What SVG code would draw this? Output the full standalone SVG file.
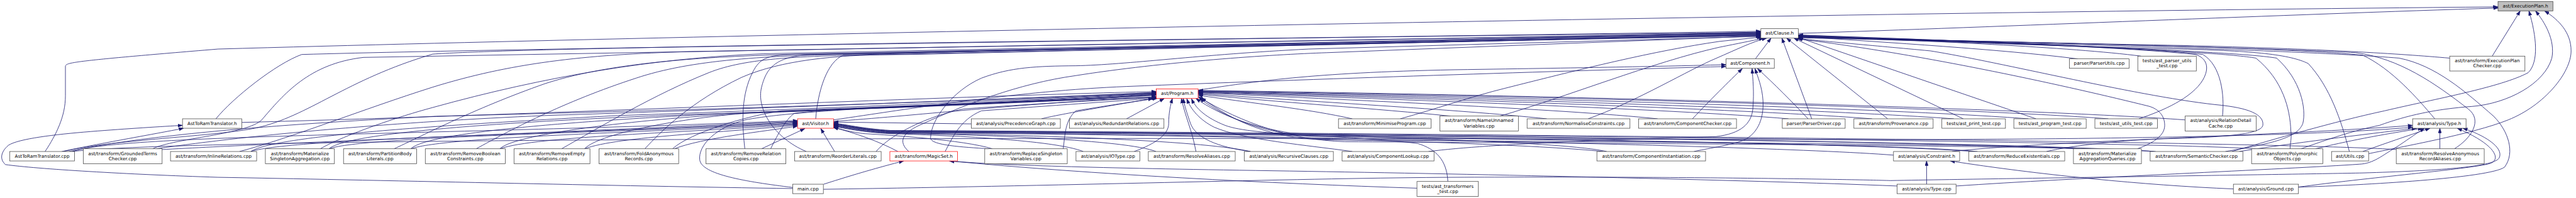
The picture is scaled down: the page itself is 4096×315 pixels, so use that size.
<svg xmlns="http://www.w3.org/2000/svg" width="4096" height="315" viewBox="0 0 4096 315">
<style>
.n rect{fill:#fff;stroke:#404040;stroke-width:1.3}
.n.r rect{stroke:#ff0000}
.n.g rect{fill:#bfbfbf}
.n text{font-family:"DejaVu Sans","Liberation Sans",sans-serif;font-size:12.7px;text-anchor:middle;fill:#000}
#edges path{fill:none;stroke:#191970;stroke-width:1.4;marker-end:url(#arr)}
</style>
<defs>
<marker id="arr" markerUnits="userSpaceOnUse" markerWidth="14" markerHeight="10" refX="13" refY="5" orient="auto">
<path d="M0,0.5 L13,5 L0,9.5 z" fill="#191970" stroke="#191970" stroke-width="1"/>
</marker>
</defs>
<rect x="0" y="0" width="4096" height="315" fill="#fff"/>
<g transform="scale(0.578)">
<g id="edges">
<path d="M4947,92 C5500,74 6300,40 6872,22"/>
<path d="M124,417 C155,370 180,320 180,264 L180,182 C182,172 200,168 600,135 C2000,95 5000,35 6872,19"/>
<path d="M6856,154.5 L6933,30"/>
<path d="M6140,417 C6250,385 6420,335 6560,305 C6700,272 6880,240 6955,200 C6985,170 6978,100 6957,30"/>
<path d="M6330,409.5 C6400,385 6470,360 6546,345 C6620,318 6700,300 6800,293 C6900,285 7000,230 7020,160 C7030,110 7000,60 6975,30"/>
<path d="M6516,423 C6600,405 6800,370 6900,330 C7000,290 7073,200 7073,140 C7073,90 7040,55 7000,30"/>
<path d="M4829,162 L4872,105"/>
<path d="M594,327 C640,270 760,175 830,150 C1500,130 4000,100 4844,86"/>
<path d="M2244,327 C2250,250 2275,170 2320,152 C3000,130 4300,104 4844,88"/>
<path d="M175,417 C300,385 600,375 705,352 C850,320 950,220 1190,149 C1500,125 4000,100 4844,89"/>
<path d="M420,409.5 C480,380 680,370 720,330 C780,260 850,175 1000,158 L4844,90"/>
<path d="M659,417 C800,380 1000,300 1190,240 C1400,175 1600,150 1900,142 L4844,91"/>
<path d="M881,409.5 C950,370 1100,320 1190,296 C1500,210 1800,160 2100,148 L4844,92"/>
<path d="M1084,409.5 C1150,380 1300,300 1500,230 C1700,165 2000,152 2300,147 L4844,93"/>
<path d="M1310,409.5 C1400,360 1550,280 1750,215 C1900,165 2100,152 2400,148 L4844,94"/>
<path d="M1545,409.5 C1650,350 1800,260 1950,200 C2050,160 2200,152 2500,150 L4844,95"/>
<path d="M1774,409.5 C1820,360 1900,280 2040,213 C2150,165 2300,152 2450,150 L4844,96"/>
<path d="M2049,409.5 C2040,330 2040,260 2070,200 C2090,160 2110,152 2180,150 L4844,97"/>
<path d="M2218,417 C2130,380 2080,300 2095,240 C2110,180 2140,152 2250,150 L4844,98"/>
<path d="M2500,417 C2470,390 2480,365 2540,340 C2650,290 2800,230 2960,208 C3200,170 3500,150 3650,145 L4844,99"/>
<path d="M2720,409.5 C2650,405 2560,400 2560,380 C2560,330 2620,250 2700,215 C2780,185 2850,182 2960,181 C3100,178 3300,150 3600,135 L4844,100"/>
<path d="M3852,327 C3950,300 4050,265 4140,243 C4350,190 4550,140 4730,114 L4846,102"/>
<path d="M4126,319.5 C4300,270 4550,170 4730,130 C4780,120 4820,112 4852,105"/>
<path d="M4369,327 C4500,280 4650,190 4720,161 C4780,135 4820,115 4860,105"/>
<path d="M4984,327 L4902,105"/>
<path d="M5193,327 L4915,105"/>
<path d="M5401,327 L4935,105"/>
<path d="M5601,327 L4947,103"/>
<path d="M5716,162 C5500,135 5200,118 4947,100"/>
<path d="M5890,154.5 C5700,130 5300,112 4947,98"/>
<path d="M5884,327 C5950,305 6030,270 6060,220 C6080,185 6070,160 6040,150 C5800,125 5200,106 4947,96"/>
<path d="M6114,319.5 C6120,260 6110,180 6060,150 C5900,130 5300,108 4947,97"/>
<path d="M6122,417 C6250,395 6320,380 6335,340 C6345,300 6330,220 6263,160 C6150,140 5500,118 4947,98"/>
<path d="M6300,409.5 C6300,395 6305,380 6302,360 C6300,300 6280,220 6206,160 C6100,140 5500,118 4947,99"/>
<path d="M6463,417 C6440,330 6410,240 6350,175 C6300,150 6200,140 6000,135 C5600,125 5200,110 4947,100"/>
<path d="M6739,160 C6600,148 6400,135 6000,125 C5600,118 5200,108 4947,101"/>
<path d="M6698,327 C6650,270 6580,190 6500,152 C6300,130 5500,115 4947,102"/>
<path d="M6752,409.5 C6800,380 6830,330 6790,300 C6700,230 6600,160 6480,145 C6200,130 5400,112 4947,103"/>
<path d="M6323,515 C6500,510 6850,490 6890,460 C6920,420 6900,360 6860,320 C6780,250 6700,180 6600,160 C6300,135 5400,114 4947,104"/>
<path d="M5880,409.5 C5920,395 5955,375 5955,345 C5955,320 5940,300 5910,292 C5700,240 5300,150 4945,107"/>
<path d="M5630,417 C5700,400 5850,385 5950,382 C6100,378 6220,372 6225,345 C6228,320 6200,300 6114,290 C5900,270 5500,170 5310,140 C5150,125 5000,112 4945,106"/>
<path d="M665,337 C1500,315 2600,265 3181,252"/>
<path d="M2293,334 C2500,320 2800,285 3181,266"/>
<path d="M190,417 C400,370 800,340 1200,320 C2000,300 2800,275 3181,254"/>
<path d="M430,409.5 C700,370 1100,335 1500,318 C2200,295 2800,270 3181,255"/>
<path d="M690,417 C760,370 1300,340 1700,318 C2300,298 2900,270 3181,256"/>
<path d="M905,409.5 C960,360 1500,330 1900,315 C2400,300 2900,272 3181,257"/>
<path d="M1130,409.5 C1180,360 1650,330 2000,312 C2500,297 2950,272 3181,258"/>
<path d="M1375,409.5 C1420,365 1800,325 2050,312 C2600,292 3000,273 3181,259"/>
<path d="M1608,409.5 C1650,365 1900,320 2100,308 C2700,290 3000,274 3181,260"/>
<path d="M1850,409.5 C1900,365 2050,320 2150,305 C2500,290 3000,275 3181,261"/>
<path d="M2120,409.5 C2140,370 2160,330 2185,312 C2300,295 2900,280 3181,262"/>
<path d="M2410,417 C2450,370 2550,320 2650,300 C2850,285 3050,275 3181,268"/>
<path d="M2600,417 C2620,380 2640,330 2700,305 C2900,290 3050,280 3181,270"/>
<path d="M2925,409.5 C2930,370 2930,330 2960,305 C3050,290 3150,275 3183,271"/>
<path d="M2865,327 C2900,318 3000,300 3172,271"/>
<path d="M3099,327 L3203,271"/>
<path d="M3120,417 C3180,395 3215,370 3215,340 C3215,310 3220,290 3225,271"/>
<path d="M3290,417 C3280,360 3260,320 3250,271"/>
<path d="M3440,417 C3350,405 3290,380 3275,340 C3265,310 3258,290 3255,271"/>
<path d="M3720,417 C3600,400 3420,385 3340,350 C3300,330 3275,300 3265,272"/>
<path d="M3983,499.5 C3980,440 3950,410 3900,395 C3700,370 3450,375 3370,345 C3320,325 3290,300 3278,272"/>
<path d="M4420,417 C4300,390 3800,380 3550,366 C3450,350 3360,320 3290,271"/>
<path d="M5440,417 C5200,395 4200,385 3600,375 C3480,365 3380,330 3300,271"/>
<path d="M5720,409.5 C5500,395 4300,390 3650,385 C3500,380 3400,340 3305,269"/>
<path d="M5930,417 C5700,400 4500,395 3700,390 C3550,385 3420,340 3296,266"/>
<path d="M3720,327 C3600,300 3450,285 3296,262"/>
<path d="M3990,319.5 C3800,300 3500,280 3296,259"/>
<path d="M4255,327 C4000,300 3600,280 3296,257"/>
<path d="M4560,327 C4300,300 3700,275 3296,255"/>
<path d="M4920,327 C4600,300 3800,272 3296,254"/>
<path d="M5150,327 C4800,300 3900,270 3296,253"/>
<path d="M5375,327 C5000,300 4000,268 3296,252"/>
<path d="M5580,327 C5200,298 4100,266 3296,251"/>
<path d="M5800,327 C5400,296 4200,264 3296,250"/>
<path d="M6011,330 C5600,300 4300,262 3296,249"/>
<path d="M2181,516 C2050,500 1930,480 1925,440 C1920,400 1970,350 2050,330 C2150,310 2400,295 2700,285 C2900,278 3100,270 3181,267"/>
<path d="M2470,417 C2420,390 2350,365 2293,351"/>
<path d="M2730,409.5 C2650,385 2450,372 2380,368 C2340,364 2310,355 2293,350"/>
<path d="M2980,417 C2900,385 2600,372 2450,368 C2370,364 2320,352 2293,348"/>
<path d="M3180,417 C3100,385 2700,370 2450,367 C2370,363 2320,350 2293,347"/>
<path d="M3440,417 C3300,385 2800,370 2450,366 C2370,362 2320,349 2293,346"/>
<path d="M4410,417 C4100,385 3000,368 2450,365 C2370,360 2320,347 2293,345"/>
<path d="M5209,427 C4800,395 3000,366 2450,364 C2370,359 2320,346 2293,344"/>
<path d="M5430,417 C5000,385 3000,365 2450,363 C2370,358 2320,345 2293,343"/>
<path d="M5715,409.5 C5300,385 3000,364 2450,362 C2370,357 2320,344 2293,342"/>
<path d="M5925,417 C5500,385 3000,363 2450,361 C2370,356 2320,343 2293,341"/>
<path d="M6205,409.5 C5800,385 3000,362 2450,360 C2370,355 2320,342 2293,340"/>
<path d="M6600,412 C6200,385 3000,361 2450,359 C2370,354 2320,341 2293,339"/>
<path d="M2672,341 L2293,336"/>
<path d="M200,417 C330,370 1200,372 2194,332"/>
<path d="M440,412 C800,392 1400,370 2194,334"/>
<path d="M690,417 C800,380 1600,368 2194,336"/>
<path d="M905,409.5 C1000,375 1700,366 2194,338"/>
<path d="M1130,409.5 C1230,375 1800,365 2194,340"/>
<path d="M1375,409.5 C1470,375 1900,365 2194,342"/>
<path d="M1608,409.5 C1700,375 2000,365 2194,344"/>
<path d="M1855,409.5 C1930,380 2100,362 2194,347"/>
<path d="M2095,409.5 L2214,354"/>
<path d="M2296,417 L2258,354"/>
<path d="M3296,248 C3450,225 3600,200 4000,192 C4400,186 4600,182 4748,178"/>
<path d="M2293,330 C2500,300 2800,250 3100,238 C3600,218 4300,195 4748,183"/>
<path d="M4656,327 C4700,280 4760,220 4793,189"/>
<path d="M4974,327 C4930,280 4880,230 4835,189"/>
<path d="M3930,417 C4100,395 4500,382 4720,376 C4790,368 4818,340 4822,300 C4826,250 4822,220 4820,189"/>
<path d="M4660,417 C4690,410 4760,400 4797,386 C4840,365 4852,320 4850,278 C4848,240 4835,210 4828,189"/>
<path d="M2266,507 C2350,480 2420,460 2486,443"/>
<path d="M3898,518 C3500,505 3000,480 2612,443"/>
<path d="M5219,512 C4800,495 4000,478 3500,470 C3000,462 2750,455 2612,443"/>
<path d="M170,417 C300,390 420,370 505,353"/>
<path d="M2181,519 C1700,512 1000,495 600,488 C350,480 100,465 15,453 C0,440 0,420 23,400 C50,382 150,370 250,362 C350,354 450,348 502,345"/>
<path d="M5300,507 L5300,443"/>
<path d="M6144,520 C5900,510 5600,480 5365,443"/>
<path d="M198,417 C600,370 4000,382 5000,384 C5800,386 6400,372 6637,350"/>
<path d="M6160,417 C6300,395 6500,370 6648,353"/>
<path d="M6370,409.5 C6450,390 6550,370 6665,353"/>
<path d="M6500,417 C6560,395 6620,375 6685,353"/>
<path d="M5370,417 C5600,390 6300,372 6637,345"/>
<path d="M6712,409.5 L6712,353"/>
<path d="M6323,515 C6500,490 6800,465 6850,450 C6880,440 6870,400 6760,353"/>
<path d="M5381,512 C5700,490 6300,465 6490,452 C6530,450 6550,430 6600,400 C6630,380 6650,365 6670,353"/>
<path d="M2265,521 C3000,510 3600,490 4000,488 C4600,485 5100,494 5200,497 C5600,490 6300,480 6500,476 C6700,470 6860,460 6875,435 C6890,405 6830,370 6775,353"/>
</g>
<g id="n_ep" class="n g"><rect x="6872" y="4" width="151" height="26"/><text x="6947.5" y="21">ast/ExecutionPlan.h</text></g>
<g id="n_clause" class="n"><rect x="4844" y="79" width="103" height="26"/><text x="4895.5" y="96">ast/Clause.h</text></g>
<g id="n_component" class="n"><rect x="4748" y="162" width="133" height="26"/><text x="4814.5" y="179">ast/Component.h</text></g>
<g id="n_parserutils" class="n"><rect x="5693" y="162" width="164" height="26"/><text x="5775" y="179">parser/ParserUtils.cpp</text></g>
<g id="n_parserutilstest" class="n"><rect x="5881" y="154.5" width="161" height="41"/><text x="5961.5" y="171.5">tests/ast_parser_utils</text><text x="5961.5" y="185.5">_test.cpp</text></g>
<g id="n_epchecker" class="n"><rect x="6739" y="154.5" width="207" height="41"/><text x="6842.5" y="171.5">ast/transform/ExecutionPlan</text><text x="6842.5" y="185.5">Checker.cpp</text></g>
<g id="n_program" class="n r"><rect x="3181" y="245" width="115" height="26"/><text x="3238.5" y="262">ast/Program.h</text></g>
<g id="n_atrh" class="n"><rect x="502" y="327" width="163" height="26"/><text x="583.5" y="344">AstToRamTranslator.h</text></g>
<g id="n_visitor" class="n r"><rect x="2194" y="327" width="99" height="26"/><text x="2243.5" y="344">ast/Visitor.h</text></g>
<g id="n_precgraph" class="n"><rect x="2672" y="327" width="245" height="26"/><text x="2794.5" y="344">ast/analysis/PrecedenceGraph.cpp</text></g>
<g id="n_redundant" class="n"><rect x="2942" y="327" width="260" height="26"/><text x="3072" y="344">ast/analysis/RedundantRelations.cpp</text></g>
<g id="n_minimise" class="n"><rect x="3682" y="327" width="255" height="26"/><text x="3809.5" y="344">ast/transform/MinimiseProgram.cpp</text></g>
<g id="n_nameunnamed" class="n"><rect x="3961" y="319.5" width="216" height="41"/><text x="4069" y="336.5">ast/transform/NameUnnamed</text><text x="4069" y="350.5">Variables.cpp</text></g>
<g id="n_normalise" class="n"><rect x="4201" y="327" width="283" height="26"/><text x="4342.5" y="344">ast/transform/NormaliseConstraints.cpp</text></g>
<g id="n_compchecker" class="n"><rect x="4508" y="327" width="269" height="26"/><text x="4642.5" y="344">ast/transform/ComponentChecker.cpp</text></g>
<g id="n_parserdriver" class="n"><rect x="4903" y="327" width="173" height="26"/><text x="4989.5" y="344">parser/ParserDriver.cpp</text></g>
<g id="n_provenance" class="n"><rect x="5100" y="327" width="218" height="26"/><text x="5209" y="344">ast/transform/Provenance.cpp</text></g>
<g id="n_printtest" class="n"><rect x="5342" y="327" width="175" height="26"/><text x="5429.5" y="344">tests/ast_print_test.cpp</text></g>
<g id="n_programtest" class="n"><rect x="5540" y="327" width="199" height="26"/><text x="5639.5" y="344">tests/ast_program_test.cpp</text></g>
<g id="n_utilstest" class="n"><rect x="5763" y="327" width="172" height="26"/><text x="5849" y="344">tests/ast_utils_test.cpp</text></g>
<g id="n_reldetail" class="n"><rect x="6011" y="319.5" width="196" height="41"/><text x="6109" y="336.5">ast/analysis/RelationDetail</text><text x="6109" y="350.5">Cache.cpp</text></g>
<g id="n_typeh" class="n"><rect x="6637" y="327" width="147" height="26"/><text x="6710.5" y="344">ast/analysis/Type.h</text></g>
<g id="n_atrcpp" class="n"><rect x="27" y="417" width="178" height="26"/><text x="116" y="434">AstToRamTranslator.cpp</text></g>
<g id="n_grounded" class="n"><rect x="229" y="409.5" width="217" height="41"/><text x="337.5" y="426.5">ast/transform/GroundedTerms</text><text x="337.5" y="440.5">Checker.cpp</text></g>
<g id="n_inline" class="n"><rect x="469" y="417" width="237" height="26"/><text x="587.5" y="434">ast/transform/InlineRelations.cpp</text></g>
<g id="n_matsingleton" class="n"><rect x="730" y="409.5" width="190" height="41"/><text x="825" y="426.5">ast/transform/Materialize</text><text x="825" y="440.5">SingletonAggregation.cpp</text></g>
<g id="n_partition" class="n"><rect x="945" y="409.5" width="201" height="41"/><text x="1045.5" y="426.5">ast/transform/PartitionBody</text><text x="1045.5" y="440.5">Literals.cpp</text></g>
<g id="n_rmboolean" class="n"><rect x="1170" y="409.5" width="220" height="41"/><text x="1280" y="426.5">ast/transform/RemoveBoolean</text><text x="1280" y="440.5">Constraints.cpp</text></g>
<g id="n_rmempty" class="n"><rect x="1414" y="409.5" width="209" height="41"/><text x="1518.5" y="426.5">ast/transform/RemoveEmpty</text><text x="1518.5" y="440.5">Relations.cpp</text></g>
<g id="n_foldanon" class="n"><rect x="1648" y="409.5" width="219" height="41"/><text x="1757.5" y="426.5">ast/transform/FoldAnonymous</text><text x="1757.5" y="440.5">Records.cpp</text></g>
<g id="n_rmcopies" class="n"><rect x="1942" y="409.5" width="220" height="41"/><text x="2052" y="426.5">ast/transform/RemoveRelation</text><text x="2052" y="440.5">Copies.cpp</text></g>
<g id="n_reorder" class="n"><rect x="2186" y="417" width="238" height="26"/><text x="2305" y="434">ast/transform/ReorderLiterals.cpp</text></g>
<g id="n_magicset" class="n r"><rect x="2448" y="417" width="186" height="26"/><text x="2541" y="434">ast/transform/MagicSet.h</text></g>
<g id="n_replsingleton" class="n"><rect x="2709" y="409.5" width="227" height="41"/><text x="2822.5" y="426.5">ast/transform/ReplaceSingleton</text><text x="2822.5" y="440.5">Variables.cpp</text></g>
<g id="n_iotype" class="n"><rect x="2960" y="417" width="176" height="26"/><text x="3048" y="434">ast/analysis/IOType.cpp</text></g>
<g id="n_resaliases" class="n"><rect x="3159" y="417" width="239" height="26"/><text x="3278.5" y="434">ast/transform/ResolveAliases.cpp</text></g>
<g id="n_recclauses" class="n"><rect x="3423" y="417" width="245" height="26"/><text x="3545.5" y="434">ast/analysis/RecursiveClauses.cpp</text></g>
<g id="n_complookup" class="n"><rect x="3692" y="417" width="253" height="26"/><text x="3818.5" y="434">ast/analysis/ComponentLookup.cpp</text></g>
<g id="n_compinst" class="n"><rect x="4393" y="417" width="299" height="26"/><text x="4542.5" y="434">ast/transform/ComponentInstantiation.cpp</text></g>
<g id="n_constraint" class="n"><rect x="5209" y="417" width="182" height="26"/><text x="5300" y="434">ast/analysis/Constraint.h</text></g>
<g id="n_reduceex" class="n"><rect x="5416" y="417" width="264" height="26"/><text x="5548" y="434">ast/transform/ReduceExistentials.cpp</text></g>
<g id="n_mataggr" class="n"><rect x="5704" y="409.5" width="187" height="41"/><text x="5797.5" y="426.5">ast/transform/Materialize</text><text x="5797.5" y="440.5">AggregationQueries.cpp</text></g>
<g id="n_semantic" class="n"><rect x="5915" y="417" width="255" height="26"/><text x="6042.5" y="434">ast/transform/SemanticChecker.cpp</text></g>
<g id="n_polymorphic" class="n"><rect x="6194" y="409.5" width="196" height="41"/><text x="6292" y="426.5">ast/transform/Polymorphic</text><text x="6292" y="440.5">Objects.cpp</text></g>
<g id="n_utils" class="n"><rect x="6414" y="417" width="102" height="26"/><text x="6465" y="434">ast/Utils.cpp</text></g>
<g id="n_resanon" class="n"><rect x="6592" y="409.5" width="242" height="41"/><text x="6713" y="426.5">ast/transform/ResolveAnonymous</text><text x="6713" y="440.5">RecordAliases.cpp</text></g>
<g id="n_main" class="n"><rect x="2181" y="507" width="84" height="26"/><text x="2223" y="524">main.cpp</text></g>
<g id="n_transtest" class="n"><rect x="3898" y="499.5" width="169" height="41"/><text x="3982.5" y="516.5">tests/ast_transformers</text><text x="3982.5" y="530.5">_test.cpp</text></g>
<g id="n_typecpp" class="n"><rect x="5219" y="507" width="162" height="26"/><text x="5300" y="524">ast/analysis/Type.cpp</text></g>
<g id="n_ground" class="n"><rect x="6144" y="507" width="179" height="26"/><text x="6233.5" y="524">ast/analysis/Ground.cpp</text></g>
</g>
</svg>
